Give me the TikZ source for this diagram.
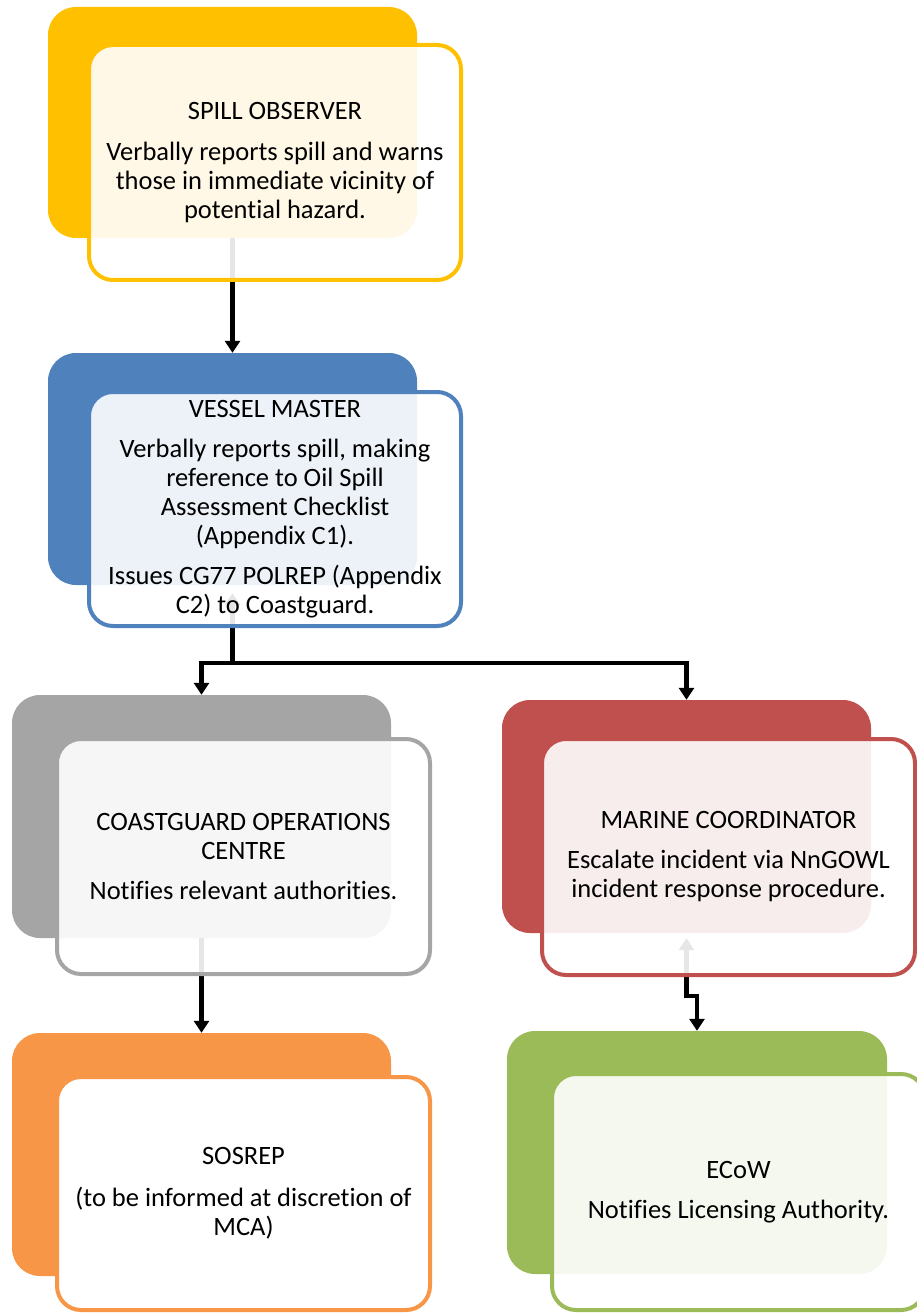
\documentclass[tikz,border=0pt]{standalone}
\usepackage{fontspec}
\setmainfont{Carlito}[Ligatures=NoCommon]
\usepackage{xcolor}
\usetikzlibrary{arrows.meta, positioning}

\definecolor{obsyellow}{HTML}{FFC000}
\definecolor{vmblue}{HTML}{4F81BD}
\definecolor{cggray}{HTML}{A5A5A5}
\definecolor{mcred}{HTML}{C0504D}
\definecolor{srorange}{HTML}{F79646}
\definecolor{ecgreen}{HTML}{9BBB59}

\pgfdeclarelayer{bg}
\pgfsetlayers{bg,main}

\begin{document}
\begin{tikzpicture}[x=1pt, y=-1pt,
    backbox/.style={fill=#1, rounded corners=28pt, inner sep=0pt},
    frontbox/.style={draw=#1, line width=4pt, fill=white, fill opacity=0.9, text opacity=1,
        rounded corners=24pt, inner sep=0pt, align=center, font=\fontsize{26.5}{29}\selectfont},
    conn/.style={line width=4.5pt, -{Triangle[width=15pt,length=12pt]}},
    connback/.style={line width=4.5pt, {Triangle[width=15pt,length=12pt]}-{Triangle[width=15pt,length=12pt]}}]
    \useasboundingbox (0,0) rectangle (917,1313);

    % Back panels
    \node[backbox=obsyellow, minimum width=369pt, minimum height=231pt] (obsB) at (232.5,122.5) {};
    \node[backbox=vmblue,    minimum width=369pt, minimum height=232pt] (vmB)  at (232.5,469) {};
    \node[backbox=cggray,    minimum width=379pt, minimum height=243pt] (cgB)  at (201.5,816.5) {};
    \node[backbox=mcred,     minimum width=369pt, minimum height=233pt] (mcB)  at (686.5,816.5) {};
    \node[backbox=srorange,  minimum width=379pt, minimum height=243pt] (srB)  at (201.5,1154.5) {};
    \node[backbox=ecgreen,   minimum width=380pt, minimum height=243pt] (ecB)  at (697,1152.5) {};

    % Front panels with text
    \node[frontbox=obsyellow, minimum width=372pt, minimum height=235pt] (obs) at (275,162.5)
        {SPILL OBSERVER\\[12pt]
         Verbally reports spill and warns\\ those in immediate vicinity of\\ potential hazard.};
    \node[frontbox=vmblue, minimum width=372pt, minimum height=234pt] (vm) at (275,509)
        {VESSEL MASTER\\[11pt]
         Verbally reports spill, making\\ reference to Oil Spill\\ Assessment Checklist\\ (Appendix C1).\\[11pt]
         Issues CG77 POLREP (Appendix\\ C2) to Coastguard.};
    \node[frontbox=cggray, minimum width=373pt, minimum height=235pt] (cg) at (243.5,856.5)
        {COASTGUARD OPERATIONS\\ CENTRE\\[11pt]
         Notifies relevant authorities.};
    \node[frontbox=mcred, minimum width=373pt, minimum height=236pt] (mc) at (728.5,857)
        {MARINE COORDINATOR\\[11pt]
         Escalate incident via NnGOWL\\ incident response procedure.};
    \node[frontbox=srorange, fill opacity=1, minimum width=373pt, minimum height=233pt] (sr) at (243.5,1193.5)
        {SOSREP\\[13pt]
         (to be informed at discretion of\\ MCA)};
    \node[frontbox=ecgreen, minimum width=373pt, minimum height=236pt] (ec) at (738.5,1192)
        {ECoW\\[11pt]
         Notifies Licensing Authority.};

    % Connectors (behind the panels)
    \begin{pgfonlayer}{bg}
        \draw[conn] (obsB.south) -- (vmB.north);
        \coordinate (split) at (232.5,663);
        \draw[connback] ([yshift=-8pt]vmB.south) -- (split) -| (cgB.north);
        \draw[conn] (split) -| (mcB.north);
        \draw[conn] (cgB.south) -- (srB.north);
        \coordinate (jog) at (686.5,996);
        \draw[connback] ([yshift=-5pt]mcB.south) -- (jog) -| (ecB.north);
    \end{pgfonlayer}
\end{tikzpicture}
\end{document}
